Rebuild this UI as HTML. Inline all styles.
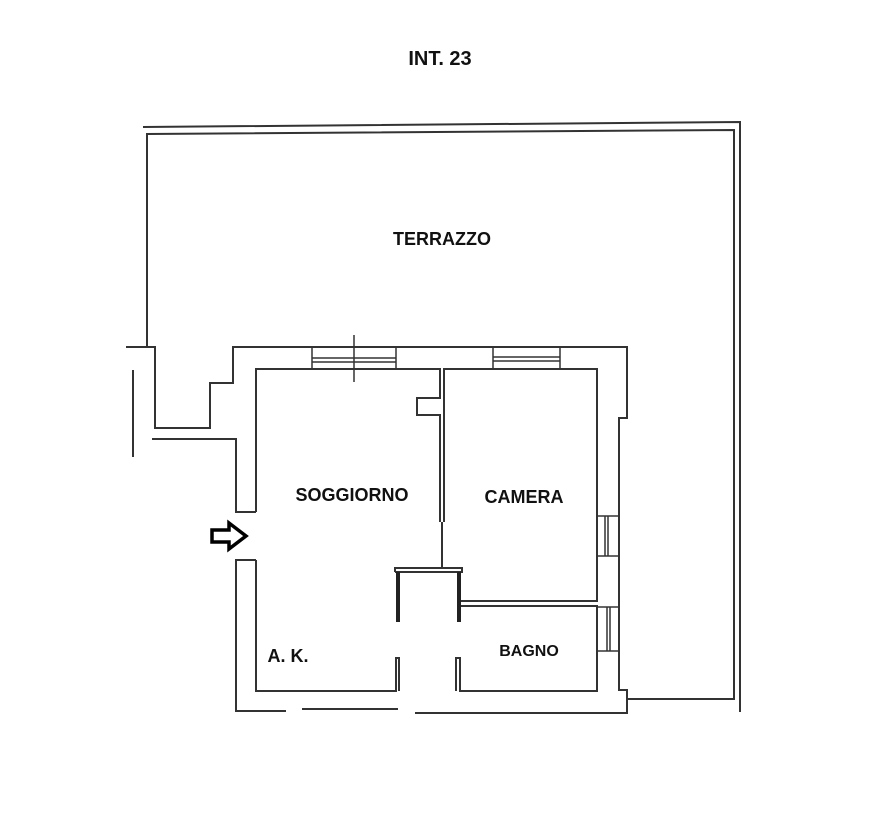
<!DOCTYPE html>
<html><head><style>
body{margin:0;background:#fff;}
svg{display:block}
text{font-family:"Liberation Sans",sans-serif;font-weight:bold;fill:#111;text-anchor:middle}
</style></head><body>
<svg width="875" height="815" viewBox="0 0 875 815" xmlns="http://www.w3.org/2000/svg">
<g fill="none" stroke="#333" stroke-width="2">
<!-- terrace -->
<polyline points="143,127 740,122 740,712"/>
<polyline points="147,347 147,134 734,130 734,699 627,699"/>
<!-- left outer zigzag -->
<polyline points="126,347 155,347 155,428 210,428 210,383 233,383 233,347 627,347 627,418 619,418 619,690 627,690 627,713 415,713"/>
<line x1="133" y1="370" x2="133" y2="457"/>
<polyline points="152,439 236,439 236,512 256,512"/>
<polyline points="256,512 256,369 440,369 440,398 417,398 417,415 440,415 440,522"/>
<polyline points="444,522 444,369 597,369 597,601 461,601"/>
<line x1="442" y1="522" x2="442" y2="568"/>
<!-- entrance lower -->
<polyline points="256,560 236,560 236,711 286,711"/>
<polyline points="256,560 256,691 396,691 396,658 399,658 399,691"/>
<polyline points="456,691 456,658 460,658 460,691 597,691 597,606 461,606"/>
<line x1="302" y1="709" x2="398" y2="709"/>
<!-- closet -->
<polyline points="395,572 395,568 462,568 462,572 395,572"/>
</g>
<g stroke="#222" stroke-width="4">
<line x1="398" y1="572" x2="398" y2="622"/>
<line x1="459" y1="572" x2="459" y2="622"/>
</g>
<g fill="none" stroke="#333" stroke-width="1.5">
<!-- windows -->
<line x1="312" y1="347" x2="312" y2="369"/><line x1="396" y1="347" x2="396" y2="369"/>
<line x1="312" y1="358" x2="396" y2="358"/><line x1="312" y1="362" x2="396" y2="362"/>
<line x1="354" y1="335" x2="354" y2="382"/>
<line x1="493" y1="347" x2="493" y2="369"/><line x1="560" y1="347" x2="560" y2="369"/>
<line x1="493" y1="357" x2="560" y2="357"/><line x1="493" y1="361" x2="560" y2="361"/>
<line x1="597" y1="516" x2="619" y2="516"/><line x1="597" y1="556" x2="619" y2="556"/>
<line x1="605" y1="516" x2="605" y2="556"/><line x1="608" y1="516" x2="608" y2="556"/>
<line x1="597" y1="607" x2="619" y2="607"/><line x1="597" y1="651" x2="619" y2="651"/>
<line x1="607" y1="607" x2="607" y2="651"/><line x1="610" y1="607" x2="610" y2="651"/>
</g>
<!-- arrow -->
<polygon points="212,530 229,530 229,523 246,536 229,549 229,542 212,542" fill="none" stroke="#000" stroke-width="3.5" stroke-linejoin="miter"/>
<text x="440" y="65" font-size="20">INT. 23</text>
<text x="442" y="245" font-size="18">TERRAZZO</text>
<text x="352" y="501" font-size="18">SOGGIORNO</text>
<text x="524" y="503" font-size="18">CAMERA</text>
<text x="529" y="656" font-size="16">BAGNO</text>
<text x="288" y="662" font-size="18">A. K.</text>
</svg>
</body></html>
